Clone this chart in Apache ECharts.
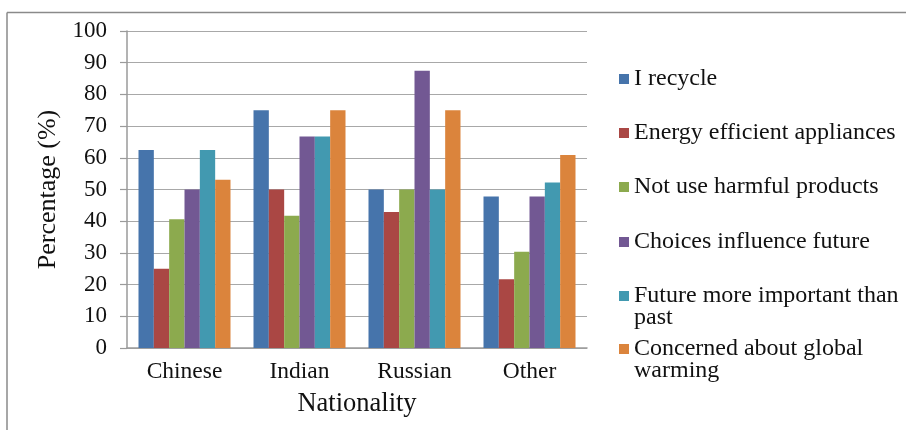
<!DOCTYPE html>
<html>
<head>
<meta charset="utf-8">
<script src="https://cdn.jsdelivr.net/npm/echarts@6/dist/echarts.min.js"></script>
<style>
  html, body { margin: 0; padding: 0; background: #fff; }
  #chart { width: 906px; height: 430px; }
</style>
</head>
<body>
<div id="chart"></div>
<script>
// Survey responses by nationality (percent of respondents)
const categories = ['Chinese', 'Indian', 'Russian', 'Other'];
const seriesNames = [
  'I recycle',
  'Energy efficient appliances',
  'Not use harmful products',
  'Choices influence future',
  'Future more important than past',
  'Concerned about global warming'
];
const iRecycle          = [62.5, 75.0, 50.0, 47.8];
const energyEfficient   = [25.0, 50.0, 42.9, 21.7];
const notUseHarmful     = [40.6, 41.7, 50.0, 30.4];
const choicesInfluence  = [50.0, 66.7, 87.5, 47.8];
const futureImportant   = [62.5, 66.7, 50.0, 52.2];
const concernedWarming  = [53.1, 75.0, 75.0, 60.9];
const yTicks = [0, 10, 20, 30, 40, 50, 60, 70, 80, 90, 100];

const values = [iRecycle, energyEfficient, notUseHarmful, choicesInfluence, futureImportant, concernedWarming];
const colors = ['#4674AB', '#AA4744', '#8CAA4E', '#725893', '#4299B0', '#DB843C'];
// legend labels, wrapped like the spreadsheet legend
const legendLabels = [
  'I recycle',
  'Energy efficient appliances',
  'Not use harmful products',
  'Choices influence future',
  'Future more important than\npast',
  'Concerned about global\nwarming'
];
const legendCenters = [78, 132, 186, 241, 295, 348];

const FONT = 'Liberation Serif, Times New Roman, serif';
const LH = 22;

// One legend block per entry so every marker lines up with the first text line.
// Wrapped entries get a blank leading line, which keeps the first line at the
// vertical centre where the marker is drawn.
const legends = seriesNames.map((name, i) => {
  const twoLine = legendLabels[i].indexOf('\n') >= 0;
  return {
    orient: 'vertical',
    left: 619,
    top: legendCenters[i] - (twoLine ? LH * 1.5 : LH / 2),
    padding: 0,
    itemWidth: 10,
    itemHeight: 10,
    icon: 'rect',
    selectedMode: false,
    data: [name],
    formatter: () => (twoLine ? ' \n' : '') + legendLabels[i],
    textStyle: {
      fontFamily: FONT,
      fontSize: 24,
      color: '#111',
      lineHeight: LH
    }
  };
});

const chart = echarts.init(document.getElementById('chart'), null, { renderer: 'canvas' });
chart.setOption({
  backgroundColor: '#fff',
  animation: false,
  color: colors,
  grid: { left: 127, right: 319, top: 31, bottom: 82, containLabel: false },
  legend: legends,
  xAxis: {
    type: 'category',
    data: categories,
    name: 'Nationality',
    nameLocation: 'middle',
    nameGap: 43,
    nameTextStyle: { fontFamily: FONT, fontSize: 26.5, color: '#111' },
    axisLine: { lineStyle: { color: '#9a9a9a', width: 1.5 } },
    axisTick: { show: false },
    axisLabel: { fontFamily: FONT, fontSize: 23.5, color: '#111', margin: 12 }
  },
  yAxis: {
    type: 'value',
    min: 0,
    max: 100,
    interval: 10,
    name: 'Percentage (%)',
    nameLocation: 'middle',
    nameGap: 62,
    nameTextStyle: { fontFamily: FONT, fontSize: 26, color: '#111' },
    axisLine: { show: true, lineStyle: { color: '#9a9a9a', width: 1.5 } },
    axisTick: { show: true, inside: false, length: 7, lineStyle: { color: '#9a9a9a', width: 1.2 } },
    axisLabel: {
      fontFamily: FONT, fontSize: 23, color: '#111', margin: 20,
      formatter: v => (yTicks.indexOf(v) >= 0 ? String(v) : '')
    },
    splitLine: { lineStyle: { color: '#a8a8a8', width: 1.2 } }
  },
  graphic: [
    { type: 'line', shape: { x1: 7, y1: 12.5, x2: 906, y2: 12.5 }, style: { stroke: '#8a8a8a', lineWidth: 1.5 }, silent: true },
    { type: 'line', shape: { x1: 7, y1: 12.5, x2: 7, y2: 430 }, style: { stroke: '#8a8a8a', lineWidth: 1.5 }, silent: true }
  ],
  series: seriesNames.map((name, i) => ({
    name: name,
    type: 'bar',
    data: values[i],
    barGap: '0%',
    barCategoryGap: '20%',
    itemStyle: { color: colors[i] }
  }))
});
</script>
</body>
</html>
